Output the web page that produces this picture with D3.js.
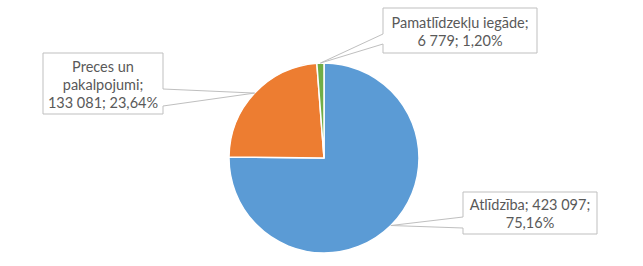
<!DOCTYPE html>
<html>
<head>
<meta charset="utf-8">
<script src="https://cdn.jsdelivr.net/npm/d3@7"></script>
<style>
	body { margin: 0; background: #fff; }
	svg text { font-family: Lato, "Open Sans", sans-serif; font-size: 14.5px; fill: #595959; }
</style>
</head>
<body>
<div id="chart"></div>
<script>
let categories	= ["Atlīdzība", "Preces un pakalpojumi", "Pamatlīdzekļu iegāde"];
let values		= [423097, 133081, 6779];
let colors		= ["#5B9BD5", "#ED7D31", "#70AD47"];

// label lines as shown in the callouts
let labelLines	= [
	["{name}; {value};", "{pct}"],
	["Preces un", "pakalpojumi;", "{value}; {pct}"],
	["Pamatlīdzekļu iegāde;", "{value}; {pct}"]
];

// callout boxes: x, y, w, h, side the pointer leaves from, pointer span
let boxes		= [
	{ x: 463, y: 192, w: 134, h: 42, side: "left",  p0: 217, p1: 228 },
	{ x: 43,  y: 53,  w: 120, h: 61, side: "right", p0: 89,  p1: 106 },
	{ x: 383, y: 8,   w: 154, h: 45, side: "left",  p0: 34,  p1: 44 }
];

let width	= 643, height = 266;
let cx		= 324, cy = 158, radius = 95;

let locale	= d3.formatLocale({ decimal: ",", thousands: " ", grouping: [3], currency: ["", ""] });
let fmtNum	= locale.format(",d");
let fmtPct	= locale.format(".2%");

let total	= d3.sum(values);
let data	= categories.map((c, i) => ({ name: c, value: values[i], color: colors[i], lines: labelLines[i], box: boxes[i] }));

let svg = d3.select("#chart").append("svg")
	.attr("width", width)
	.attr("height", height);

let pie		= d3.pie().sort(null).value((o) => o.value);
let arc		= d3.arc().innerRadius(0).outerRadius(radius);
let arcs	= pie(data);

let g = svg.append("g").attr("transform", "translate(" + cx + "," + cy + ")");

g.selectAll(".slice")
	.data(arcs)
	.enter().append("path")
		.attr("class", "slice")
		.attr("d", arc)
		.attr("fill", (o) => o.data.color)
		.attr("stroke", "#fff")
		.attr("stroke-width", 1.5)
		.attr("stroke-linejoin", "round");

// callouts
arcs.forEach((a) => {
	let mid	= (a.startAngle + a.endAngle) / 2;
	let tx	= cx + radius * Math.sin(mid);
	let ty	= cy - radius * Math.cos(mid);
	let b	= a.data.box;
	let x0 = b.x, y0 = b.y, x1 = b.x + b.w, y1 = b.y + b.h;
	let d;
	if (b.side == "left") {
		d = "M" + x0 + "," + y0 + "H" + x1 + "V" + y1 + "H" + x0 + "V" + b.p1 + "L" + tx + "," + ty + "L" + x0 + "," + b.p0 + "Z";
	} else {
		d = "M" + x0 + "," + y0 + "H" + x1 + "V" + b.p0 + "L" + tx + "," + ty + "L" + x1 + "," + b.p1 + "V" + y1 + "H" + x0 + "Z";
	}
	svg.append("path")
		.attr("d", d)
		.attr("fill", "#fff")
		.attr("stroke", "#BFBFBF")
		.attr("stroke-width", 1);

	let lines	= a.data.lines.map((s) => s
		.replace("{name}", a.data.name)
		.replace("{value}", fmtNum(a.data.value))
		.replace("{pct}", fmtPct(a.data.value / total)));
	let lh		= 18;
	let top		= b.y + b.h / 2 - (lines.length * lh) / 2;
	let t = svg.append("text")
		.attr("text-anchor", "middle");
	lines.forEach((s, i) => {
		t.append("tspan")
			.attr("x", b.x + b.w / 2)
			.attr("y", top + i * lh + 15)
			.text(s);
	});
});
</script>
</body>
</html>
